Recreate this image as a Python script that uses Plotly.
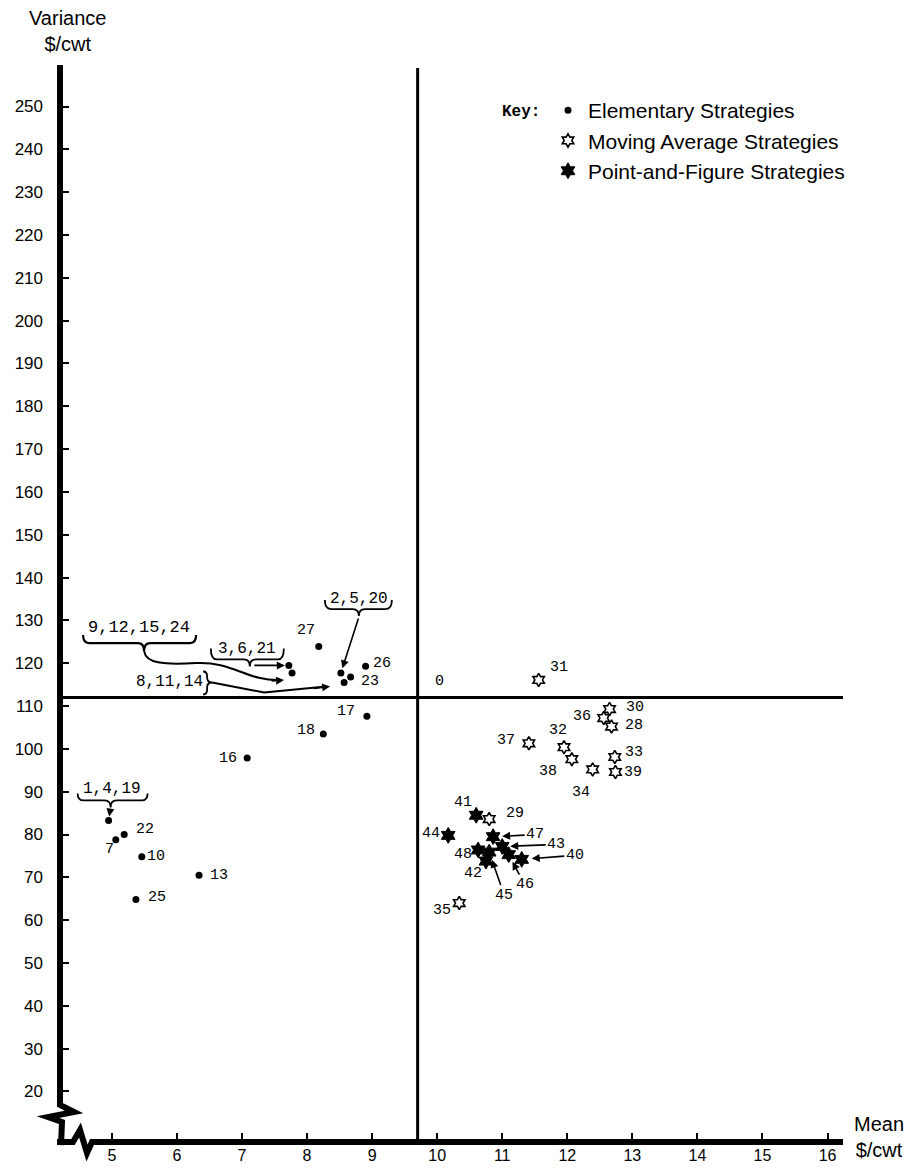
import plotly.graph_objects as go

# ---------------- data ----------------
elem_labels = ["1,4,19", "2,5,20", "3,6,21", "7", "8,11,14", "9,12,15,24", "10", "13",
               "16", "17", "18", "22", "23", "25", "26", "27"]
elem_mean = [4.95, 8.52, 7.72, 5.06, 8.57, 7.77, 5.46, 6.34, 7.08, 8.92, 8.25, 5.19, 8.67, 5.37, 8.90, 8.18]
elem_var = [83.3, 117.7, 119.5, 78.8, 115.5, 117.7, 74.8, 70.5, 97.9, 107.6, 103.5, 80.0, 116.8, 64.8, 119.3, 123.9]

ma_labels = ["28", "29", "30", "31", "32", "33", "34", "35", "36", "37", "38", "39"]
ma_mean = [12.68, 10.80, 12.65, 11.56, 11.95, 12.73, 12.39, 10.34, 12.56, 11.41, 12.07, 12.74]
ma_var = [105.2, 83.6, 109.3, 116.1, 100.4, 98.1, 95.2, 64.0, 107.2, 101.3, 97.6, 94.6]

pf_labels = ["40", "41", "42", "43", "44", "45", "46", "47", "48"]
pf_mean = [11.30, 10.60, 10.75, 11.00, 10.17, 10.80, 11.10, 10.86, 10.63]
pf_var = [74.2, 84.5, 73.8, 77.2, 79.8, 75.9, 75.3, 79.5, 76.4]

base_label = "0"
base_mean = 9.7
base_var = 112.0

x_ticks = list(range(5, 17))
y_ticks = list(range(20, 251, 10))

series_names = ["Elementary Strategies", "Moving Average Strategies", "Point-and-Figure Strategies"]

# ---------------- layout geometry (page pixels) ----------------
W, H = 913, 1168
OFF = 8                      # default body margin of the html page
FW, FH = W - OFF, H - OFF
L, R, T, B = 60, 843, 65, 1142
X0, X1 = 4.203, 16.238
Y0, Y1 = 8.2, 259.7


def px(x):
    return L + (x - X0) / (X1 - X0) * (R - L)


def py(y):
    return B - (y - Y0) / (Y1 - Y0) * (B - T)


def iy(p):
    return Y0 + (B - p) / (B - T) * (Y1 - Y0)


def fx(p):
    return (p - L) / (R - L)


def fy(p):
    return (B - p) / (B - T)


def to_path(cmds, ox=0.0, oy=0.0):
    parts = []
    for c, pts in cmds:
        if c in ("M", "L"):
            for a, b in pts:
                parts.append(f"{c} {fx(ox + a):.5f},{fy(oy + b):.5f}")
        else:
            parts.append(c + " " + " ".join(f"{fx(ox + a):.5f},{fy(oy + b):.5f}" for a, b in pts))
    return " ".join(parts)


def underbrace(xl, xr, ytop, ybar, tipx, ytip, r=6):
    return [("M", [(xl, ytop)]), ("Q", [(xl, ybar), (xl + r, ybar)]), ("L", [(tipx - r, ybar)]),
            ("Q", [(tipx, ybar), (tipx, ytip)]), ("Q", [(tipx, ybar), (tipx + r, ybar)]),
            ("L", [(xr - r, ybar)]), ("Q", [(xr, ybar), (xr, ytop)])]


def rightbrace(xl, xm, xt, ytop, ymid, ybot, r=5):
    return [("M", [(xl, ytop)]), ("Q", [(xm, ytop), (xm, ytop + r)]), ("L", [(xm, ymid - r)]),
            ("Q", [(xm, ymid), (xt, ymid)]), ("Q", [(xm, ymid), (xm, ymid + r)]),
            ("L", [(xm, ybot - r)]), ("Q", [(xm, ybot), (xl, ybot)])]


MONO = "Liberation Mono"
SANS = "Liberation Sans"

fig = go.Figure()
fig.add_trace(go.Scatter(x=elem_mean, y=elem_var, mode="markers", name=series_names[0],
                         marker=dict(symbol="circle", size=7, color="black"), cliponaxis=False))
fig.add_trace(go.Scatter(x=ma_mean, y=ma_var, mode="markers", name=series_names[1],
                         marker=dict(symbol="hexagram-open", size=10, color="black",
                                     line=dict(width=1.6, color="black")), cliponaxis=False))
fig.add_trace(go.Scatter(x=pf_mean, y=pf_var, mode="markers", name=series_names[2],
                         marker=dict(symbol="hexagram", size=12, color="black",
                                     line=dict(width=1, color="black")), cliponaxis=False))

shapes = []
annos = []

# reference lines through strategy 0
shapes.append(dict(type="line", xref="x", yref="y", x0=base_mean, x1=base_mean, y0=Y0, y1=iy(68),
                   line=dict(color="black", width=3), layer="below"))
shapes.append(dict(type="line", xref="x", yref="y", x0=X0, x1=X1, y0=base_var, y1=base_var,
                   line=dict(color="black", width=3), layer="below"))
annos.append(dict(x=base_mean, y=base_var, xref="x", yref="y", text=base_label, showarrow=False,
                  xshift=22, yshift=16, font=dict(family=MONO, size=15, color="black")))

# thick axes with break marks
left_axis = [("M", [(L, T)]), ("L", [(L, 1105), (74, 1112), (48, 1117), (62, 1122), (61, B + 3)])]
bottom_axis = [("M", [(L - 3, B)]), ("L", [(73, B), (80, 1130), (87, 1153), (92, B), (R, B)])]
for pth in (left_axis, bottom_axis):
    shapes.append(dict(type="path", xref="paper", yref="paper", path=to_path(pth),
                       line=dict(color="black", width=6)))

# simple point labels (offsets are styling: xshift, yshift in px)
label_off = {
    "27": (-13, 16), "26": (16, 3), "23": (19, -5), "17": (-21, 5), "18": (-17, 3), "16": (-19, -1),
    "7": (-6, -10), "22": (21, 5), "10": (14, 0), "13": (20, 0), "25": (21, 2),
    "31": (20, 12), "30": (25, 2), "36": (-22, 2), "28": (22, 1), "37": (-23, 3), "32": (-6, 17),
    "38": (-24, -12), "34": (-12, -23), "33": (19, 5), "39": (18, 0), "29": (26, 6), "35": (-17, -7),
    "41": (-13, 13), "44": (-17, 2), "48": (-15, -5), "42": (-13, -12),
}
arrow_lab = {"47": (42, -2, 9), "43": (54, -2, 8), "40": (53, -4, 10), "46": (16, 30, 8), "45": (15, 43, 8)}

all_pts = list(zip(elem_labels, elem_mean, elem_var)) + list(zip(ma_labels, ma_mean, ma_var)) + \
    list(zip(pf_labels, pf_mean, pf_var))
pos = {lab: (mx, vy) for lab, mx, vy in all_pts}

for lab, mx, vy in all_pts:
    if lab in label_off:
        dx, dy = label_off[lab]
        annos.append(dict(x=mx, y=vy, xref="x", yref="y", text=lab, showarrow=False,
                          xshift=dx, yshift=dy, font=dict(family=MONO, size=15, color="black")))
    elif lab in arrow_lab:
        ax, ay, so = arrow_lab[lab]
        annos.append(dict(x=mx, y=vy, xref="x", yref="y", text=lab, showarrow=True, ax=ax, ay=ay,
                          standoff=so, arrowhead=2, arrowsize=1, arrowwidth=1.6, arrowcolor="black",
                          font=dict(family=MONO, size=15, color="black")))


# grouped labels with braces
def arrow_head(lab, sx, sy, ax, ay, so=0):
    mx, vy = pos[lab]
    annos.append(dict(x=mx, y=vy, xref="x", yref="y", text="", showarrow=True, ax=ax, ay=ay,
                      xshift=sx, yshift=-sy, standoff=so, arrowhead=2, arrowsize=1, arrowwidth=1.6,
                      arrowcolor="black"))


def group_text(lab, dx, dy, size=16):
    mx, vy = pos[lab]
    annos.append(dict(x=mx, y=vy, xref="x", yref="y", text=lab, showarrow=False,
                      xshift=dx, yshift=-dy, font=dict(family=MONO, size=size, color="black")))


def add_path(lab, cmds, w=1.8):
    mx, vy = pos[lab]
    shapes.append(dict(type="path", xref="paper", yref="paper", path=to_path(cmds, px(mx), py(vy)),
                       line=dict(color="black", width=w)))


# 9,12,15,24
g = "9,12,15,24"
group_text(g, -153, -46, 17)
add_path(g, underbrace(-209, -96, -38, -30, -148, -22), 2.2)
add_path(g, [("M", [(-148, -22)]), ("C", [(-146, -10), (-130, -8), (-96, -10)]),
             ("C", [(-60, -12), (-45, 8), (-12, 7)])], 2.0)
arrow_head(g, -8, 7, -14, 1)

# 3,6,21
g = "3,6,21"
group_text(g, -42, -16)
add_path(g, underbrace(-78, -5, -17, -6, -39, 1))
arrow_head(g, 0, 0, -36, 0, 4)

# 2,5,20
g = "2,5,20"
group_text(g, 18, -74)
add_path(g, underbrace(-16, 51, -73, -64, 18, -57))
arrow_head(g, 0, 0, 18, -56, 5)

# 8,11,14
g = "8,11,14"
group_text(g, -175, -1)
add_path(g, rightbrace(-141, -137, -132, -11, 0, 12))
add_path(g, [("M", [(-132, 0)]), ("L", [(-80, 10), (-18, 4)])], 2.0)
arrow_head(g, -14, 4, -18, 2)

# 1,4,19
g = "1,4,19"
group_text(g, 3, -31)
add_path(g, underbrace(-31, 39, -27, -20, 2, -13))
arrow_head(g, 0, 0, 2, -13, 4)

# axis titles & key label
annos.append(dict(xref="paper", yref="paper", x=fx(67), y=fy(31), xanchor="center", yanchor="middle",
                  text="Variance<br>$/cwt", showarrow=False, font=dict(family=SANS, size=20, color="black")))
annos.append(dict(xref="paper", yref="paper", x=fx(879), y=fy(1137), xanchor="center", yanchor="middle",
                  text="Mean<br>$/cwt", showarrow=False, font=dict(family=SANS, size=20, color="black")))
annos.append(dict(xref="paper", yref="paper", x=fx(521), y=fy(112), xanchor="center", yanchor="middle",
                  text="<b>Key:</b>", showarrow=False, font=dict(family=MONO, size=16, color="black")))

fig.update_layout(
    width=FW, height=FH,
    margin=dict(l=L - OFF, r=(OFF + FW) - R, t=T - OFF, b=(OFF + FH) - B, pad=0, autoexpand=False),
    paper_bgcolor="white", plot_bgcolor="white",
    shapes=shapes, annotations=annos,
    legend=dict(x=fx(548), y=fy(90), xanchor="left", yanchor="top",
                font=dict(family=SANS, size=21, color="black"), bgcolor="rgba(0,0,0,0)",
                itemwidth=30, tracegroupgap=0),
    xaxis=dict(range=[X0, X1], tickvals=x_ticks, ticktext=[str(v) for v in x_ticks],
               ticks="inside", ticklen=9, tickwidth=2, tickcolor="black", automargin=False,
               showgrid=False, zeroline=False, showline=False,
               tickfont=dict(family=SANS, size=16, color="black"), ticklabelstandoff=2),
    yaxis=dict(range=[Y0, Y1], tickvals=y_ticks, ticktext=[str(v) for v in y_ticks],
               ticks="inside", ticklen=9, tickwidth=2, tickcolor="black", automargin=False,
               showgrid=False, zeroline=False, showline=False,
               tickfont=dict(family=SANS, size=17, color="black"), ticklabelstandoff=16),
)

fig.write_html("out.html")
